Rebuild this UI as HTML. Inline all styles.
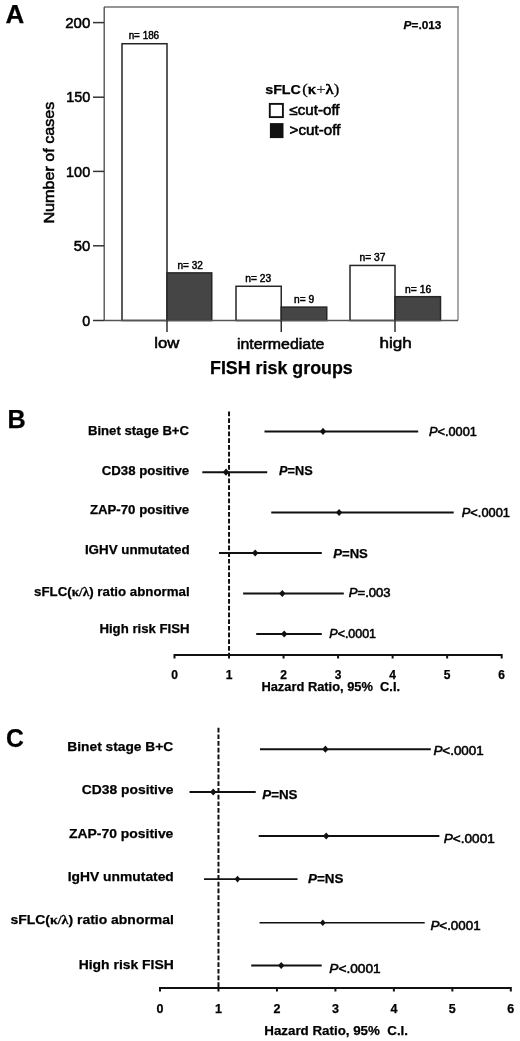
<!DOCTYPE html>
<html><head><meta charset="utf-8"><style>
html,body{margin:0;padding:0;background:#fff;}
svg{display:block;font-family:"Liberation Sans", sans-serif;will-change:transform;}
</style></head><body>
<svg width="520" height="1041" viewBox="0 0 520 1041">
<rect width="520" height="1041" fill="#fff"/>
<text x="5.55" y="22.6" font-size="25" font-weight="bold" font-family='"Liberation Sans", sans-serif' fill="#000" textLength="18.76" lengthAdjust="spacingAndGlyphs" xml:space="preserve" stroke="#000" stroke-width="0.25">A</text>
<line x1="104" y1="7" x2="458.7" y2="7" stroke="#727272" stroke-width="1.5" />
<line x1="458" y1="6.3" x2="458" y2="320.5" stroke="#848484" stroke-width="1.4" />
<rect x="122" y="43.73200000000003" width="45" height="276.768" fill="#fff" stroke="#262626" stroke-width="1.5"/>
<rect x="167" y="272.884" width="44.75" height="47.615999999999985" fill="#454545" stroke="#262626" stroke-width="1.5"/>
<rect x="236" y="286.276" width="45.25" height="34.22399999999999" fill="#fff" stroke="#262626" stroke-width="1.5"/>
<rect x="281.25" y="307.108" width="45.5" height="13.391999999999996" fill="#454545" stroke="#262626" stroke-width="1.5"/>
<rect x="350" y="265.444" width="45" height="55.05599999999998" fill="#fff" stroke="#262626" stroke-width="1.5"/>
<rect x="395" y="296.692" width="45.5" height="23.807999999999993" fill="#454545" stroke="#262626" stroke-width="1.5"/>
<line x1="104" y1="320.5" x2="458" y2="320.5" stroke="#555" stroke-width="1.5" />
<line x1="104.2" y1="7" x2="104.2" y2="321" stroke="#4a4a4a" stroke-width="1.3" />
<line x1="93" y1="320.5" x2="104" y2="320.5" stroke="#333" stroke-width="1.5" />
<text x="82.23" y="325.7" font-size="15" font-weight="normal" font-family='"Liberation Sans", sans-serif' fill="#000" textLength="7.92" lengthAdjust="spacingAndGlyphs" xml:space="preserve" stroke="#000" stroke-width="0.55">0</text>
<line x1="93" y1="245.8" x2="104" y2="245.8" stroke="#333" stroke-width="1.5" />
<text x="73.71" y="251.0" font-size="15" font-weight="normal" font-family='"Liberation Sans", sans-serif' fill="#000" textLength="16.48" lengthAdjust="spacingAndGlyphs" xml:space="preserve" stroke="#000" stroke-width="0.55">50</text>
<line x1="93" y1="171.4" x2="104" y2="171.4" stroke="#333" stroke-width="1.5" />
<text x="66.12" y="176.6" font-size="15" font-weight="normal" font-family='"Liberation Sans", sans-serif' fill="#000" textLength="24.04" lengthAdjust="spacingAndGlyphs" xml:space="preserve" stroke="#000" stroke-width="0.55">100</text>
<line x1="93" y1="97.2" x2="104" y2="97.2" stroke="#333" stroke-width="1.5" />
<text x="66.22" y="102.4" font-size="15" font-weight="normal" font-family='"Liberation Sans", sans-serif' fill="#000" textLength="24.04" lengthAdjust="spacingAndGlyphs" xml:space="preserve" stroke="#000" stroke-width="0.55">150</text>
<line x1="93" y1="22.6" x2="104" y2="22.6" stroke="#333" stroke-width="1.5" />
<text x="65.25" y="27.8" font-size="15" font-weight="normal" font-family='"Liberation Sans", sans-serif' fill="#000" textLength="25.03" lengthAdjust="spacingAndGlyphs" xml:space="preserve" stroke="#000" stroke-width="0.55">200</text>
<text x="0" y="0" font-size="15.4" font-weight="normal" text-anchor="middle" fill="#000" stroke="#000" stroke-width="0.55" textLength="122" lengthAdjust="spacingAndGlyphs" transform="translate(54.3,162.6) rotate(-90)">Number of cases</text>
<line x1="167" y1="320.5" x2="167" y2="332" stroke="#222" stroke-width="1.4" />
<line x1="281.25" y1="320.5" x2="281.25" y2="332" stroke="#222" stroke-width="1.4" />
<line x1="395" y1="320.5" x2="395" y2="332" stroke="#222" stroke-width="1.4" />
<text x="154.37" y="348.4" font-size="15.5" font-weight="normal" font-family='"Liberation Sans", sans-serif' fill="#000" textLength="25.10" lengthAdjust="spacingAndGlyphs" xml:space="preserve" stroke="#000" stroke-width="0.55">low</text>
<text x="236.93" y="349" font-size="15.5" font-weight="normal" font-family='"Liberation Sans", sans-serif' fill="#000" textLength="87.51" lengthAdjust="spacingAndGlyphs" xml:space="preserve" stroke="#000" stroke-width="0.55">intermediate</text>
<text x="379.40" y="348.4" font-size="15.5" font-weight="normal" font-family='"Liberation Sans", sans-serif' fill="#000" textLength="32.32" lengthAdjust="spacingAndGlyphs" xml:space="preserve" stroke="#000" stroke-width="0.55">high</text>
<text x="210.00" y="373.6" font-size="18" font-weight="bold" font-family='"Liberation Sans", sans-serif' fill="#000" textLength="142.75" lengthAdjust="spacingAndGlyphs" xml:space="preserve" stroke="#000" stroke-width="0.25">FISH risk groups</text>
<text x="128.63" y="38.8" font-size="10" font-weight="normal" font-family='"Liberation Sans", sans-serif' fill="#000" textLength="30.50" lengthAdjust="spacingAndGlyphs" xml:space="preserve" stroke="#000" stroke-width="0.45">n= 186</text>
<text x="177.52" y="269.40000000000003" font-size="10" font-weight="normal" font-family='"Liberation Sans", sans-serif' fill="#000" textLength="25.38" lengthAdjust="spacingAndGlyphs" xml:space="preserve" stroke="#000" stroke-width="0.45">n= 32</text>
<text x="245.36" y="282.3" font-size="10" font-weight="normal" font-family='"Liberation Sans", sans-serif' fill="#000" textLength="25.83" lengthAdjust="spacingAndGlyphs" xml:space="preserve" stroke="#000" stroke-width="0.45">n= 23</text>
<text x="294.11" y="303.3" font-size="10" font-weight="normal" font-family='"Liberation Sans", sans-serif' fill="#000" textLength="20.11" lengthAdjust="spacingAndGlyphs" xml:space="preserve" stroke="#000" stroke-width="0.45">n= 9</text>
<text x="359.61" y="261.3" font-size="10" font-weight="normal" font-family='"Liberation Sans", sans-serif' fill="#000" textLength="25.91" lengthAdjust="spacingAndGlyphs" xml:space="preserve" stroke="#000" stroke-width="0.45">n= 37</text>
<text x="405.10" y="292.8" font-size="10" font-weight="normal" font-family='"Liberation Sans", sans-serif' fill="#000" textLength="26.09" lengthAdjust="spacingAndGlyphs" xml:space="preserve" stroke="#000" stroke-width="0.45">n= 16</text>
<text x="265.20" y="93.7" font-size="12.5" font-weight="bold" font-family='"Liberation Sans", sans-serif' fill="#000" textLength="35.69" lengthAdjust="spacingAndGlyphs" xml:space="preserve" stroke="#000" stroke-width="0.25">sFLC</text>
<text x="302.25" y="94.2" font-size="14.5" font-weight="normal" font-family='"Liberation Serif", serif' fill="#000" textLength="36.98" lengthAdjust="spacingAndGlyphs" xml:space="preserve" stroke="#000" stroke-width="0.7"><tspan stroke-width="0.25">(</tspan>κ<tspan stroke-width="0.1" fill="#222">+</tspan>λ<tspan stroke-width="0.25">)</tspan></text>
<rect x="269.8" y="103.9" width="13.1" height="13.2" fill="#fff" stroke="#111" stroke-width="1.9"/>
<rect x="269.9" y="123.1" width="13.6" height="15" fill="#111" stroke="none" stroke-width="0"/>
<text x="289.45" y="115.4" font-size="14" font-weight="normal" font-family='"Liberation Sans", sans-serif' fill="#000" textLength="50.11" lengthAdjust="spacingAndGlyphs" xml:space="preserve" stroke="#000" stroke-width="0.55">≤cut-off</text>
<text x="289.64" y="134.6" font-size="14" font-weight="normal" font-family='"Liberation Sans", sans-serif' fill="#000" textLength="50.72" lengthAdjust="spacingAndGlyphs" xml:space="preserve" stroke="#000" stroke-width="0.55">&gt;cut-off</text>
<text x="403.59" y="29" font-size="11.5" font-weight="bold" font-family='"Liberation Sans", sans-serif' fill="#000" textLength="37.85" lengthAdjust="spacingAndGlyphs" xml:space="preserve" stroke="#000" stroke-width="0.25"><tspan font-style="italic">P</tspan>=.013</text>
<text x="7.40" y="427.8" font-size="25.5" font-weight="bold" font-family='"Liberation Sans", sans-serif' fill="#000" textLength="18.23" lengthAdjust="spacingAndGlyphs" xml:space="preserve" stroke="#000" stroke-width="0.25">B</text>
<line x1="229.03" y1="411.5" x2="229.03" y2="655" stroke="#111" stroke-width="2" stroke-dasharray="4.7 2"/>
<line x1="174.5" y1="655" x2="501.68" y2="655" stroke="#111" stroke-width="2" />
<line x1="174.5" y1="654" x2="174.5" y2="658.5" stroke="#111" stroke-width="2" />
<text x="174.5" y="678.9" font-size="12" font-weight="bold" text-anchor="middle" fill="#000" stroke="#000" stroke-width="0.25" >0</text>
<line x1="229.03" y1="654" x2="229.03" y2="658.5" stroke="#111" stroke-width="2" />
<text x="229.03" y="678.9" font-size="12" font-weight="bold" text-anchor="middle" fill="#000" stroke="#000" stroke-width="0.25" >1</text>
<line x1="283.56" y1="654" x2="283.56" y2="658.5" stroke="#111" stroke-width="2" />
<text x="283.56" y="678.9" font-size="12" font-weight="bold" text-anchor="middle" fill="#000" stroke="#000" stroke-width="0.25" >2</text>
<line x1="338.09000000000003" y1="654" x2="338.09000000000003" y2="658.5" stroke="#111" stroke-width="2" />
<text x="338.09000000000003" y="678.9" font-size="12" font-weight="bold" text-anchor="middle" fill="#000" stroke="#000" stroke-width="0.25" >3</text>
<line x1="392.62" y1="654" x2="392.62" y2="658.5" stroke="#111" stroke-width="2" />
<text x="392.62" y="678.9" font-size="12" font-weight="bold" text-anchor="middle" fill="#000" stroke="#000" stroke-width="0.25" >4</text>
<line x1="447.15" y1="654" x2="447.15" y2="658.5" stroke="#111" stroke-width="2" />
<text x="447.15" y="678.9" font-size="12" font-weight="bold" text-anchor="middle" fill="#000" stroke="#000" stroke-width="0.25" >5</text>
<line x1="501.68" y1="654" x2="501.68" y2="658.5" stroke="#111" stroke-width="2" />
<text x="501.68" y="678.9" font-size="12" font-weight="bold" text-anchor="middle" fill="#000" stroke="#000" stroke-width="0.25" >6</text>
<text x="261.43" y="691.4" font-size="12.5" font-weight="bold" font-family='"Liberation Sans", sans-serif' fill="#000" textLength="138.65" lengthAdjust="spacingAndGlyphs" xml:space="preserve" stroke="#000" stroke-width="0.25">Hazard Ratio, 95%  C.I.</text>
<text x="87.91" y="434.5" font-size="13" font-weight="bold" font-family='"Liberation Sans", sans-serif' fill="#000" textLength="101.14" lengthAdjust="spacingAndGlyphs" xml:space="preserve" stroke="#000" stroke-width="0.25">Binet stage B+C</text>
<line x1="264.5" y1="431.4" x2="418.2" y2="431.4" stroke="#111" stroke-width="2" />
<polygon points="319.8,431.4 323,427.79999999999995 326.2,431.4 323,435.0" fill="#111"/>
<text x="429.02" y="435.9" font-size="12.5" font-weight="normal" font-family='"Liberation Sans", sans-serif' fill="#000" textLength="47.80" lengthAdjust="spacingAndGlyphs" xml:space="preserve" stroke="#000" stroke-width="0.55"><tspan font-style="italic">P</tspan>&lt;.0001</text>
<text x="101.77" y="475.4" font-size="13" font-weight="bold" font-family='"Liberation Sans", sans-serif' fill="#000" textLength="87.37" lengthAdjust="spacingAndGlyphs" xml:space="preserve" stroke="#000" stroke-width="0.25">CD38 positive</text>
<line x1="202.3" y1="472.2" x2="267.2" y2="472.2" stroke="#111" stroke-width="2" />
<polygon points="222.8,472.2 226,468.59999999999997 229.2,472.2 226,475.8" fill="#111"/>
<text x="279.08" y="475.4" font-size="12.5" font-weight="bold" font-family='"Liberation Sans", sans-serif' fill="#000" textLength="33.63" lengthAdjust="spacingAndGlyphs" xml:space="preserve" stroke="#000" stroke-width="0.25"><tspan font-style="italic">P</tspan>=NS</text>
<text x="89.90" y="513.8" font-size="13" font-weight="bold" font-family='"Liberation Sans", sans-serif' fill="#000" textLength="99.26" lengthAdjust="spacingAndGlyphs" xml:space="preserve" stroke="#000" stroke-width="0.25">ZAP-70 positive</text>
<line x1="271.25" y1="512.5" x2="453.7" y2="512.5" stroke="#111" stroke-width="2" />
<polygon points="335.90000000000003,512.5 339.1,508.9 342.3,512.5 339.1,516.1" fill="#111"/>
<text x="461.82" y="517" font-size="12.5" font-weight="normal" font-family='"Liberation Sans", sans-serif' fill="#000" textLength="48.11" lengthAdjust="spacingAndGlyphs" xml:space="preserve" stroke="#000" stroke-width="0.55"><tspan font-style="italic">P</tspan>&lt;.0001</text>
<text x="84.90" y="554" font-size="13" font-weight="bold" font-family='"Liberation Sans", sans-serif' fill="#000" textLength="104.69" lengthAdjust="spacingAndGlyphs" xml:space="preserve" stroke="#000" stroke-width="0.25">IGHV unmutated</text>
<line x1="219" y1="553" x2="321.8" y2="553" stroke="#111" stroke-width="2" />
<polygon points="252.0,553 255.2,549.4 258.4,553 255.2,556.6" fill="#111"/>
<text x="333.27" y="558.3" font-size="12.5" font-weight="bold" font-family='"Liberation Sans", sans-serif' fill="#000" textLength="34.55" lengthAdjust="spacingAndGlyphs" xml:space="preserve" stroke="#000" stroke-width="0.25"><tspan font-style="italic">P</tspan>=NS</text>
<text x="34.04" y="595.6" font-size="13" font-weight="bold" font-family='"Liberation Sans", sans-serif' fill="#000" textLength="155.58" lengthAdjust="spacingAndGlyphs" xml:space="preserve" stroke="#000" stroke-width="0.25">sFLC(<tspan font-family="Liberation Serif, serif" stroke-width="0.3">κ/λ</tspan>) ratio abnormal</text>
<line x1="243.1" y1="593.5" x2="343.8" y2="593.5" stroke="#111" stroke-width="2" />
<polygon points="279.1,593.5 282.3,589.9 285.5,593.5 282.3,597.1" fill="#111"/>
<text x="348.81" y="596.6" font-size="12.5" font-weight="normal" font-family='"Liberation Sans", sans-serif' fill="#000" textLength="41.78" lengthAdjust="spacingAndGlyphs" xml:space="preserve" stroke="#000" stroke-width="0.55"><tspan font-style="italic">P</tspan>=.003</text>
<text x="99.41" y="632.6" font-size="13" font-weight="bold" font-family='"Liberation Sans", sans-serif' fill="#000" textLength="90.18" lengthAdjust="spacingAndGlyphs" xml:space="preserve" stroke="#000" stroke-width="0.25">High risk FISH</text>
<line x1="256.2" y1="634.0" x2="321.8" y2="634.0" stroke="#111" stroke-width="2" />
<polygon points="281.0,634.0 284.2,630.4 287.4,634.0 284.2,637.6" fill="#111"/>
<text x="329.33" y="637.6" font-size="12.5" font-weight="normal" font-family='"Liberation Sans", sans-serif' fill="#000" textLength="46.68" lengthAdjust="spacingAndGlyphs" xml:space="preserve" stroke="#000" stroke-width="0.55"><tspan font-style="italic">P</tspan>&lt;.0001</text>
<text x="5.91" y="746.6" font-size="25.5" font-weight="bold" font-family='"Liberation Sans", sans-serif' fill="#000" textLength="17.86" lengthAdjust="spacingAndGlyphs" xml:space="preserve" stroke="#000" stroke-width="0.25">C</text>
<line x1="218.47" y1="727.7" x2="218.47" y2="988" stroke="#111" stroke-width="2" stroke-dasharray="4.7 2"/>
<line x1="160.0" y1="988" x2="510.82" y2="988" stroke="#111" stroke-width="2" />
<line x1="160.0" y1="987" x2="160.0" y2="991.5" stroke="#111" stroke-width="2" />
<text x="160.0" y="1013" font-size="12.5" font-weight="bold" text-anchor="middle" fill="#000" stroke="#000" stroke-width="0.25" >0</text>
<line x1="218.47" y1="987" x2="218.47" y2="991.5" stroke="#111" stroke-width="2" />
<text x="218.47" y="1013" font-size="12.5" font-weight="bold" text-anchor="middle" fill="#000" stroke="#000" stroke-width="0.25" >1</text>
<line x1="276.94" y1="987" x2="276.94" y2="991.5" stroke="#111" stroke-width="2" />
<text x="276.94" y="1013" font-size="12.5" font-weight="bold" text-anchor="middle" fill="#000" stroke="#000" stroke-width="0.25" >2</text>
<line x1="335.40999999999997" y1="987" x2="335.40999999999997" y2="991.5" stroke="#111" stroke-width="2" />
<text x="335.40999999999997" y="1013" font-size="12.5" font-weight="bold" text-anchor="middle" fill="#000" stroke="#000" stroke-width="0.25" >3</text>
<line x1="393.88" y1="987" x2="393.88" y2="991.5" stroke="#111" stroke-width="2" />
<text x="393.88" y="1013" font-size="12.5" font-weight="bold" text-anchor="middle" fill="#000" stroke="#000" stroke-width="0.25" >4</text>
<line x1="452.35" y1="987" x2="452.35" y2="991.5" stroke="#111" stroke-width="2" />
<text x="452.35" y="1013" font-size="12.5" font-weight="bold" text-anchor="middle" fill="#000" stroke="#000" stroke-width="0.25" >5</text>
<line x1="510.82" y1="987" x2="510.82" y2="991.5" stroke="#111" stroke-width="2" />
<text x="510.82" y="1013" font-size="12.5" font-weight="bold" text-anchor="middle" fill="#000" stroke="#000" stroke-width="0.25" >6</text>
<text x="264.30" y="1035.2" font-size="13" font-weight="bold" font-family='"Liberation Sans", sans-serif' fill="#000" textLength="143.72" lengthAdjust="spacingAndGlyphs" xml:space="preserve" stroke="#000" stroke-width="0.25">Hazard Ratio, 95%  C.I.</text>
<text x="67.37" y="750.9000000000001" font-size="13.5" font-weight="bold" font-family='"Liberation Sans", sans-serif' fill="#000" textLength="105.89" lengthAdjust="spacingAndGlyphs" xml:space="preserve" stroke="#000" stroke-width="0.25">Binet stage B+C</text>
<line x1="260" y1="749.2" x2="430.8" y2="749.2" stroke="#111" stroke-width="2" />
<polygon points="322.2,749.2 325.4,745.6 328.59999999999997,749.2 325.4,752.8000000000001" fill="#111"/>
<text x="433.40" y="755" font-size="13" font-weight="normal" font-family='"Liberation Sans", sans-serif' fill="#000" textLength="50.35" lengthAdjust="spacingAndGlyphs" xml:space="preserve" stroke="#000" stroke-width="0.55"><tspan font-style="italic">P</tspan>&lt;.0001</text>
<text x="81.75" y="794.0" font-size="13.5" font-weight="bold" font-family='"Liberation Sans", sans-serif' fill="#000" textLength="91.62" lengthAdjust="spacingAndGlyphs" xml:space="preserve" stroke="#000" stroke-width="0.25">CD38 positive</text>
<line x1="189.5" y1="792" x2="255.75" y2="792" stroke="#111" stroke-width="2" />
<polygon points="210.05,792 213.25,788.4 216.45,792 213.25,795.6" fill="#111"/>
<text x="262.27" y="798.75" font-size="13" font-weight="bold" font-family='"Liberation Sans", sans-serif' fill="#000" textLength="35.27" lengthAdjust="spacingAndGlyphs" xml:space="preserve" stroke="#000" stroke-width="0.25"><tspan font-style="italic">P</tspan>=NS</text>
<text x="68.98" y="838.4000000000001" font-size="13.5" font-weight="bold" font-family='"Liberation Sans", sans-serif' fill="#000" textLength="104.40" lengthAdjust="spacingAndGlyphs" xml:space="preserve" stroke="#000" stroke-width="0.25">ZAP-70 positive</text>
<line x1="258.7" y1="836" x2="439.4" y2="836" stroke="#111" stroke-width="2" />
<polygon points="323.0,836 326.2,832.4 329.4,836 326.2,839.6" fill="#111"/>
<text x="443.79" y="842.5" font-size="13" font-weight="normal" font-family='"Liberation Sans", sans-serif' fill="#000" textLength="50.97" lengthAdjust="spacingAndGlyphs" xml:space="preserve" stroke="#000" stroke-width="0.55"><tspan font-style="italic">P</tspan>&lt;.0001</text>
<text x="67.77" y="881.2" font-size="13.5" font-weight="bold" font-family='"Liberation Sans", sans-serif' fill="#000" textLength="106.06" lengthAdjust="spacingAndGlyphs" xml:space="preserve" stroke="#000" stroke-width="0.25">IgHV unmutated</text>
<line x1="204" y1="879.1" x2="297.5" y2="879.1" stroke="#111" stroke-width="1.6" />
<polygon points="234.6,879.1 237.5,875.8000000000001 240.4,879.1 237.5,882.4" fill="#111"/>
<text x="307.97" y="882.6" font-size="13" font-weight="bold" font-family='"Liberation Sans", sans-serif' fill="#000" textLength="35.37" lengthAdjust="spacingAndGlyphs" xml:space="preserve" stroke="#000" stroke-width="0.25"><tspan font-style="italic">P</tspan>=NS</text>
<text x="10.51" y="924.3000000000001" font-size="13.5" font-weight="bold" font-family='"Liberation Sans", sans-serif' fill="#000" textLength="163.34" lengthAdjust="spacingAndGlyphs" xml:space="preserve" stroke="#000" stroke-width="0.25">sFLC(<tspan font-family="Liberation Serif, serif" stroke-width="0.3">κ/λ</tspan>) ratio abnormal</text>
<line x1="259.5" y1="922.8" x2="424.7" y2="922.8" stroke="#111" stroke-width="1.6" />
<polygon points="319.90000000000003,922.8 322.8,919.5 325.7,922.8 322.8,926.0999999999999" fill="#111"/>
<text x="430.40" y="930" font-size="13" font-weight="normal" font-family='"Liberation Sans", sans-serif' fill="#000" textLength="50.25" lengthAdjust="spacingAndGlyphs" xml:space="preserve" stroke="#000" stroke-width="0.55"><tspan font-style="italic">P</tspan>&lt;.0001</text>
<text x="78.66" y="968.9000000000001" font-size="13.5" font-weight="bold" font-family='"Liberation Sans", sans-serif' fill="#000" textLength="95.18" lengthAdjust="spacingAndGlyphs" xml:space="preserve" stroke="#000" stroke-width="0.25">High risk FISH</text>
<line x1="251.2" y1="965.5" x2="321.7" y2="965.5" stroke="#111" stroke-width="2" />
<polygon points="278.0,965.5 281.2,961.9 284.4,965.5 281.2,969.1" fill="#111"/>
<text x="329.39" y="972.8" font-size="13" font-weight="normal" font-family='"Liberation Sans", sans-serif' fill="#000" textLength="51.27" lengthAdjust="spacingAndGlyphs" xml:space="preserve" stroke="#000" stroke-width="0.55"><tspan font-style="italic">P</tspan>&lt;.0001</text>
</svg>
</body></html>
